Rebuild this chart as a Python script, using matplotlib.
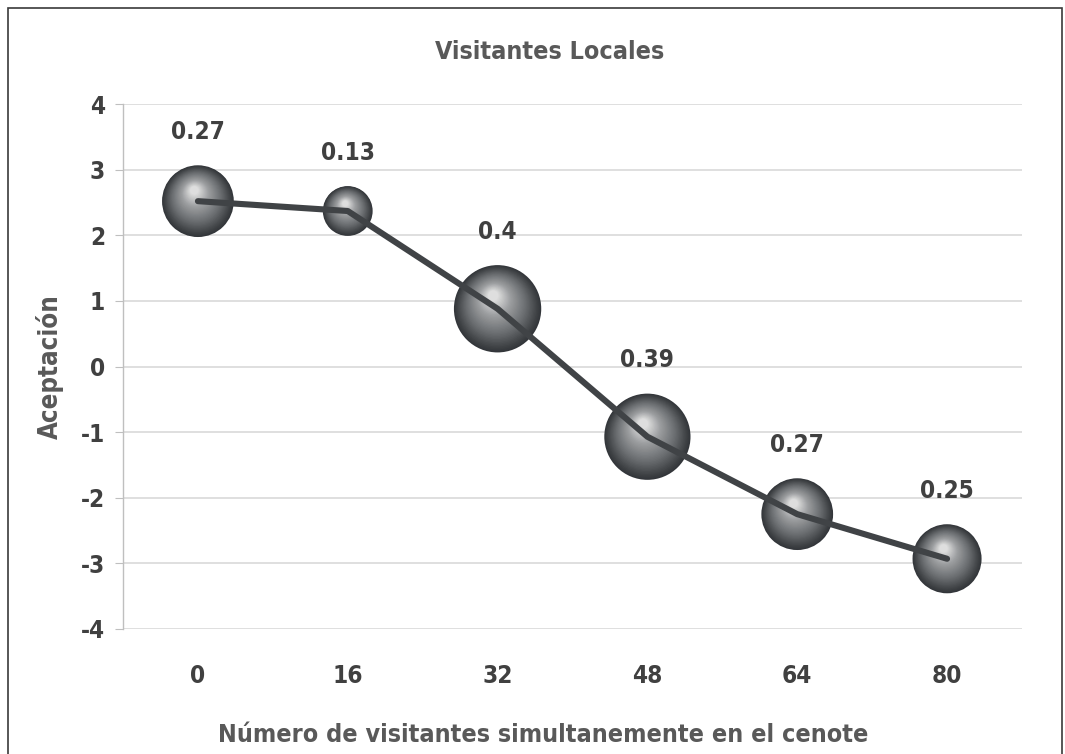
import numpy as np
import matplotlib
matplotlib.use("Agg")
import matplotlib.pyplot as plt
from matplotlib.transforms import offset_copy
from matplotlib.patches import Rectangle
from matplotlib.colors import to_rgb

# Data
visitantes = [0, 16, 32, 48, 64, 80]
aceptacion = [2.52, 2.37, 0.88, -1.07, -2.25, -2.93]
tamano = [0.27, 0.13, 0.40, 0.39, 0.27, 0.25]
y_ticks = [-4, -3, -2, -1, 0, 1, 2, 3, 4]

plt.rcParams['font.family'] = ["DejaVu Sans"]
plt.rcParams['font.stretch'] = 'condensed'

fig = plt.figure(figsize=(10.65, 7.54), dpi=100)
ax = fig.add_axes([0.1155, 0.1658, 0.8441, 0.6962])

# Frame around the whole chart
fig.patches.append(Rectangle((8 / 1065, -0.05), 1054 / 1065, 1.05 - 8 / 754,
                             transform=fig.transFigure, fill=False,
                             edgecolor="#3a3a3a", linewidth=1.2))

# Bubbles drawn as layered circles to fake a shaded sphere
escala = 99.4  # bubble diameter in points for size 1 (area scaling)
paradas = [0.0, 0.08, 0.35, 0.7, 1.0]
colores = [to_rgb(c) for c in ["#33363a", "#3e4144", "#6a6d70", "#9c9ea0", "#dedede"]]
n_capas = 36


def color_capa(t):
    for j in range(len(paradas) - 1):
        if t <= paradas[j + 1]:
            k = (t - paradas[j]) / (paradas[j + 1] - paradas[j])
            return tuple(np.array(colores[j]) + (np.array(colores[j + 1]) - np.array(colores[j])) * k)
    return colores[-1]


for x, y, v in zip(visitantes, aceptacion, tamano):
    d = escala * np.sqrt(v)
    r = d / 2
    for i in range(n_capas):
        t = i / (n_capas - 1)
        frac = 1 - 0.88 * t
        dx = -0.1 * r * t
        dy = 0.3 * r * t
        tr = offset_copy(ax.transData, fig=fig, x=dx, y=dy, units='points')
        ax.scatter([x], [y], s=(d * frac) ** 2, color=color_capa(t), edgecolors='none',
                   transform=tr, zorder=2 + i * 0.001)

# Line connecting the points
ax.plot(visitantes, aceptacion, color="#404346", linewidth=4.4,
        solid_capstyle='round', solid_joinstyle='round', zorder=3)

# Data labels (bubble size)
for x, y, v in zip(visitantes, aceptacion, tamano):
    r_pt = escala * np.sqrt(v) / 2
    ax.annotate(f"{v:g}", (x, y), xytext=(0, r_pt + 24), textcoords='offset points',
                ha='center', va='center', fontsize=17.5, fontweight='bold',
                color="#404040", zorder=4)

ax.set_xlim(-8, 88)
ax.set_ylim(-4, 4)
ax.set_xticks(visitantes)
ax.set_xticklabels([str(v) for v in visitantes])
ax.set_yticks(y_ticks)
ax.set_yticklabels([str(v) for v in y_ticks])

ax.grid(axis='y', color="#d9d9d9", linewidth=1.2, zorder=0)
ax.set_axisbelow(True)
for s in ['top', 'right', 'bottom']:
    ax.spines[s].set_visible(False)
ax.spines['left'].set_color("#bfbfbf")
ax.spines['left'].set_linewidth(1.0)

ax.tick_params(axis='y', length=6, color="#bfbfbf", labelsize=17.5, labelcolor="#404040", pad=7)
ax.tick_params(axis='x', length=0, labelsize=17.5, labelcolor="#404040", pad=25)
for lbl in ax.get_xticklabels() + ax.get_yticklabels():
    lbl.set_fontweight('bold')

fig.text(550 / 1065, 1 - 52 / 754, "Visitantes Locales", ha='center', va='center',
         fontsize=18, fontweight='bold', color="#595959")
fig.text(543 / 1065, 1 - 735 / 754, "Número de visitantes simultanemente en el cenote",
         ha='center', va='center', fontsize=18, fontweight='bold', color="#595959")
fig.text(50 / 1065, 1 - 367 / 754, "Aceptación", ha='center', va='center', rotation=90,
         fontsize=18.5, fontweight='bold', color="#595959")

fig.savefig("out.png", dpi=100)
